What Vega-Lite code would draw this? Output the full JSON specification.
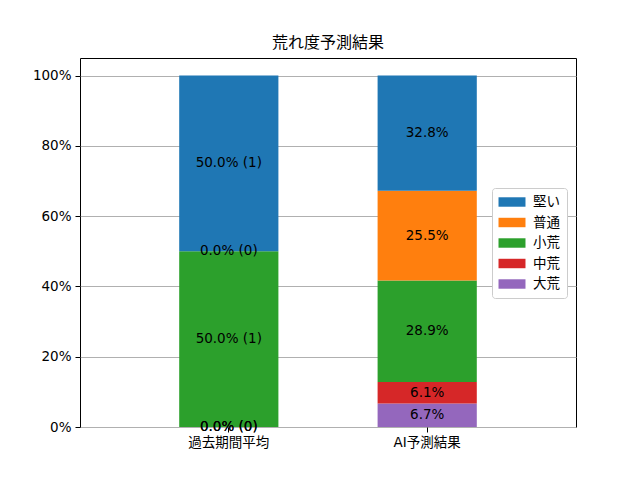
{
  "$schema": "https://vega.github.io/schema/vega-lite/v6.json",
  "width": 496,
  "height": 369,
  "autosize": {"type": "none"},
  "padding": {"left": 80, "top": 58, "right": 64, "bottom": 53},
  "background": "white",
  "title": {"text": "荒れ度予測結果", "font": "DejaVu Sans, Noto Sans CJK JP", "fontSize": 16, "fontWeight": "normal", "color": "black", "offset": 7, "anchor": "middle"},
  "config": {
    "view": {"stroke": "black", "strokeWidth": 1},
    "font": "DejaVu Sans, Noto Sans CJK JP",
    "axis": {"labelFont": "DejaVu Sans, Noto Sans CJK JP", "labelFontSize": 13.5, "labelColor": "black", "tickColor": "black", "domain": false, "titleFontSize": 13}
  },
  "data": {
    "values": [
      {"group": "過去期間平均", "cat": "大荒", "ord": 1, "value": 0, "label": "0.0% (0)"},
      {"group": "過去期間平均", "cat": "中荒", "ord": 2, "value": 0, "label": "0.0% (0)"},
      {"group": "過去期間平均", "cat": "小荒", "ord": 3, "value": 50, "label": "50.0% (1)"},
      {"group": "過去期間平均", "cat": "普通", "ord": 4, "value": 0, "label": "0.0% (0)"},
      {"group": "過去期間平均", "cat": "堅い", "ord": 5, "value": 50, "label": "50.0% (1)"},
      {"group": "AI予測結果", "cat": "大荒", "ord": 1, "value": 6.7, "label": "6.7%"},
      {"group": "AI予測結果", "cat": "中荒", "ord": 2, "value": 6.1, "label": "6.1%"},
      {"group": "AI予測結果", "cat": "小荒", "ord": 3, "value": 28.9, "label": "28.9%"},
      {"group": "AI予測結果", "cat": "普通", "ord": 4, "value": 25.5, "label": "25.5%"},
      {"group": "AI予測結果", "cat": "堅い", "ord": 5, "value": 32.8, "label": "32.8%"}
    ]
  },
  "transform": [
    {"stack": "value", "groupby": ["group"], "sort": [{"field": "ord", "order": "ascending"}], "as": ["y0", "y1"]},
    {"calculate": "(datum.y0 + datum.y1) / 2", "as": "ymid"}
  ],
  "encoding": {
    "x": {
      "field": "group", "type": "nominal", "sort": ["過去期間平均", "AI予測結果"],
      "scale": {"paddingInner": 0.5, "paddingOuter": 0.5},
      "axis": {"title": null, "labelAngle": 0, "tickSize": 5, "grid": false, "labelPadding": 3}
    }
  },
  "layer": [
    {
      "mark": {"type": "bar"},
      "encoding": {
        "y": {
          "field": "y0", "type": "quantitative",
          "scale": {"domain": [0, 105], "nice": false, "zero": true},
          "axis": {"title": null, "values": [0, 20, 40, 60, 80, 100], "labelExpr": "datum.value + '%'", "grid": true, "gridColor": "#b0b0b0", "gridWidth": 1, "tickSize": 5, "labelPadding": 4}
        },
        "y2": {"field": "y1"},
        "color": {
          "field": "cat", "type": "nominal",
          "scale": {"domain": ["堅い", "普通", "小荒", "中荒", "大荒"], "range": ["#1f77b4", "#ff7f0e", "#2ca02c", "#d62728", "#9467bd"]},
          "legend": {
            "title": null, "orient": "none", "legendX": 412, "legendY": 130,
            "symbolType": "M-2,-0.7H2V0.7H-2Z", "symbolSize": 182, "symbolStrokeWidth": 0, "symbolOffset": 6,
            "labelFont": "DejaVu Sans, Noto Sans CJK JP", "labelFontSize": 13.5, "labelColor": "black",
            "fillColor": "white", "strokeColor": "#cccccc", "padding": 7, "cornerRadius": 3,
            "rowPadding": 6.5, "labelOffset": 14
          }
        }
      }
    },
    {
      "mark": {"type": "text", "fontSize": 13.5, "color": "black", "baseline": "middle", "align": "center", "font": "DejaVu Sans, Noto Sans CJK JP"},
      "encoding": {
        "y": {"field": "ymid", "type": "quantitative"},
        "text": {"field": "label"}
      }
    }
  ]
}
